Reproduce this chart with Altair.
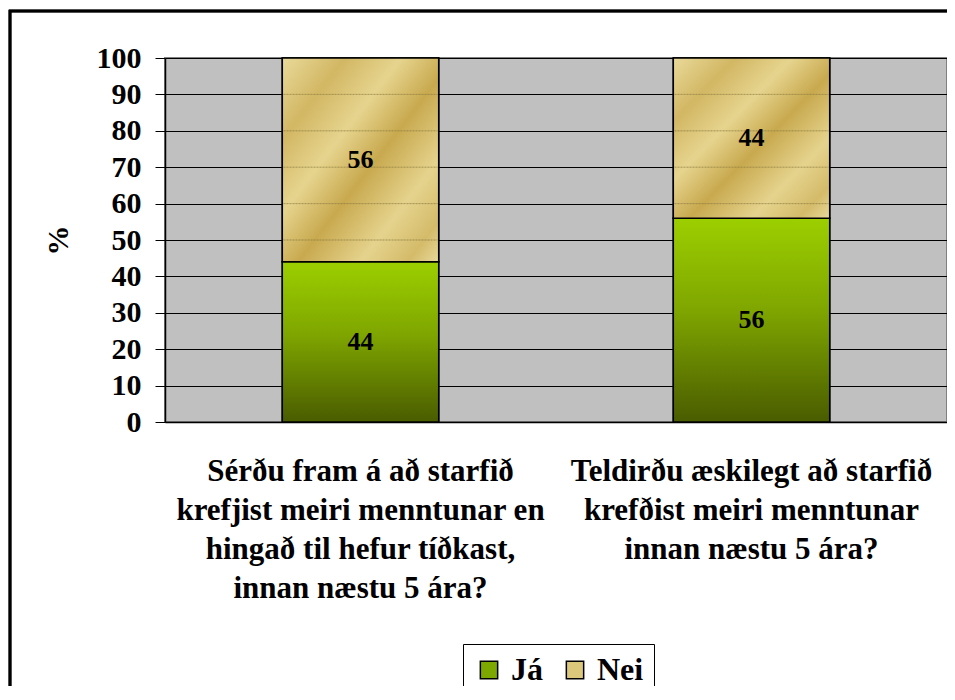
import altair as alt
import pandas as pd

categories = [
    "Sérðu fram á að starfið|krefjist meiri menntunar en|hingað til hefur tíðkast,|innan næstu 5 ára?",
    "Teldirðu æskilegt að starfið|krefðist meiri menntunar|innan næstu 5 ára?",
]
series = ["Já", "Nei"]
ja_values = [44, 56]
nei_values = [56, 44]
y_ticks = [0, 10, 20, 30, 40, 50, 60, 70, 80, 90, 100]

rows = []
for c, ja, nei in zip(categories, ja_values, nei_values):
    rows.append({"cat": c, "series": "Já", "order": 0, "value": ja})
    rows.append({"cat": c, "series": "Nei", "order": 1, "value": nei})
df = pd.DataFrame(rows)

# gridlines that show faintly (dotted) through the "Nei" segments
grid_rows = []
for c, ja, nei in zip(categories, ja_values, nei_values):
    for t in y_ticks:
        if ja < t < ja + nei:
            grid_rows.append({"cat": c, "tick": t})
grid_df = pd.DataFrame(grid_rows)

FONT = "Liberation Serif"
GREEN_SOLID = "#7DA800"
TAN_SOLID = "#DCC87A"

green_grad = alt.Gradient(
    gradient="linear",
    x1=0, x2=0, y1=0, y2=1,
    stops=[
        alt.GradientStop(color="#9CCF00", offset=0),
        alt.GradientStop(color="#7FA600", offset=0.45),
        alt.GradientStop(color="#4A5C00", offset=1),
    ],
)
tan_grad = alt.Gradient(
    gradient="linear",
    x1=0, x2=1, y1=0, y2=1,
    stops=[
        alt.GradientStop(color="#E9DA9A", offset=0),
        alt.GradientStop(color="#D2B764", offset=0.2),
        alt.GradientStop(color="#E6D48E", offset=0.38),
        alt.GradientStop(color="#C8A94F", offset=0.55),
        alt.GradientStop(color="#E5D38D", offset=0.75),
        alt.GradientStop(color="#D4BB6A", offset=0.9),
        alt.GradientStop(color="#E8D89A", offset=1),
    ],
)

x_axis = alt.Axis(
    title=None,
    labelAngle=0,
    labelExpr="split(datum.label, '|')",
    labelFont=FONT,
    labelFontSize=31,
    labelFontWeight="bold",
    labelColor="black",
    labelLineHeight=39,
    labelPadding=34,
    labelLimit=500,
    domainColor="black",
    domainWidth=1.5,
    ticks=False,
)
x_enc = alt.X(
    "cat:N",
    sort=categories,
    scale=alt.Scale(paddingInner=0.6, paddingOuter=0.3),
    axis=x_axis,
)
y_scale = alt.Scale(domain=[0, 100], nice=False)
y_axis = alt.Axis(
    values=y_ticks,
    labelOverlap=False,
    title="%",
    titleFont=FONT,
    titleFontSize=30,
    titleFontWeight="bold",
    titleColor="black",
    titleX=-107,
    titleY=182,
    titleBaseline="middle",
    labelFont=FONT,
    labelFontSize=30,
    labelFontWeight="bold",
    labelColor="black",
    labelPadding=14,
    tickColor="black",
    tickSize=10,
    domainColor="black",
    domainWidth=1.5,
    grid=True,
    gridColor="black",
    gridWidth=1,
)

base = alt.Chart(df).transform_stack(
    stack="value", groupby=["cat"], as_=["y0", "y1"], sort=[alt.SortField("order")]
)

legend_bars = base.mark_bar(stroke="black", strokeWidth=1.5).encode(
    x=x_enc,
    y=alt.Y("y0:Q", scale=y_scale, axis=y_axis),
    y2="y1:Q",
    color=alt.Color(
        "series:N",
        scale=alt.Scale(domain=series, range=[GREEN_SOLID, TAN_SOLID]),
        legend=alt.Legend(
            title=None,
            orient="none",
            legendX=298,
            legendY=586,
            direction="horizontal",
            strokeColor="black",
            fillColor="white",
            padding=10,
            symbolType="square",
            symbolSize=300,
            symbolStrokeColor="black",
            symbolStrokeWidth=1.5,
            symbolOpacity=1,
            labelFont=FONT,
            labelFontSize=32,
            labelFontWeight="bold",
            labelColor="black",
            labelLimit=200,
            columnPadding=16,
            labelOffset=6,
        ),
    ),
)

ja_bars = base.transform_filter(alt.datum.series == "Já").mark_bar(
    fill=green_grad, stroke="black", strokeWidth=1.5
).encode(x=x_enc, y=alt.Y("y0:Q", scale=y_scale, axis=y_axis), y2="y1:Q")

nei_bars = base.transform_filter(alt.datum.series == "Nei").mark_bar(
    fill=tan_grad, stroke="black", strokeWidth=1.5
).encode(x=x_enc, y=alt.Y("y0:Q", scale=y_scale, axis=y_axis), y2="y1:Q")

dotted = alt.Chart(grid_df).mark_tick(
    filled=False, thickness=0, size=154, stroke="#8A7A40", strokeWidth=1,
    strokeDash=[1, 2], opacity=0.8,
).encode(x=x_enc, y=alt.Y("tick:Q", scale=y_scale, axis=y_axis))

labels = base.transform_calculate(mid="(datum.y0 + datum.y1) / 2").mark_text(
    font=FONT, fontSize=26, fontWeight="bold", color="black", baseline="middle"
).encode(x=x_enc, y=alt.Y("mid:Q", scale=y_scale, axis=y_axis), text="value:Q")

frame = alt.Chart(df).mark_rect(
    fill="transparent", stroke="black", strokeWidth=2.5
).encode(
    x=alt.value(-155), x2=alt.value(820), y=alt.value(-47), y2=alt.value(700)
)

chart = alt.layer(legend_bars, ja_bars, nei_bars, dotted, labels, frame).properties(
    width=782,
    height=364,
    background="white",
    autosize=alt.AutoSizeParams(type="none"),
    padding={"left": 157, "top": 50, "right": 0, "bottom": 264},
).configure_view(fill="#C0C0C0", stroke="#808080", strokeWidth=2)

chart.save("out.html", embed_options={"renderer": "svg", "actions": False})
